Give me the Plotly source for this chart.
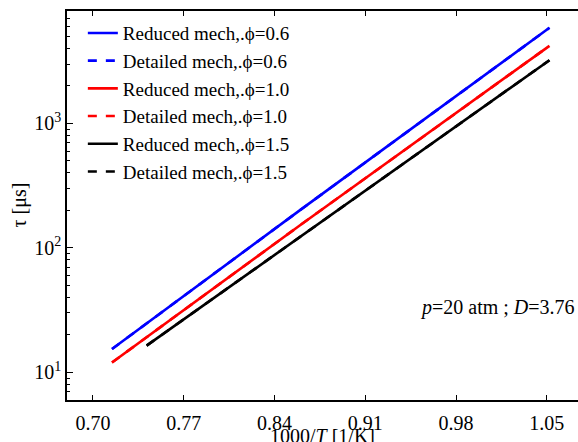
import plotly.graph_objects as go

# ---- data ----
inv_T_06 = [0.7147, 0.8597, 1.052]
tau_red_06 = [15.4, 201, 5860]
tau_det_06 = [15.4, 201, 5860]

inv_T_10 = [0.7147, 0.8597, 1.052]
tau_red_10 = [12.0, 152, 4200]
tau_det_10 = [12.0, 152, 4200]

inv_T_15 = [0.7414, 0.8597, 1.052]
tau_red_15 = [16.4, 123, 3220]
tau_det_15 = [16.4, 123, 3220]

x_ticks = [0.70, 0.77, 0.84, 0.91, 0.98, 1.05]
x_ticktext = ["0.70", "0.77", "0.84", "0.91", "0.98", "1.05"]
y_ticks = [10, 100, 1000]
y_ticktext = ["10<sup>1</sup>", "10<sup>2</sup>", "10<sup>3</sup>"]
y_minor = [m * 10 ** k for k in range(0, 4) for m in range(2, 10)]

FONT = "Liberation Serif, Times New Roman, serif"

series = [
    ("Reduced mech,.\u03d5=0.6", inv_T_06, tau_red_06, "#0000ff", "solid"),
    ("Detailed mech,.\u03d5=0.6", inv_T_06, tau_det_06, "#0000ff", "dash"),
    ("Reduced mech,.\u03d5=1.0", inv_T_10, tau_red_10, "#ff0000", "solid"),
    ("Detailed mech,.\u03d5=1.0", inv_T_10, tau_det_10, "#ff0000", "dash"),
    ("Reduced mech,.\u03d5=1.5", inv_T_15, tau_red_15, "#000000", "solid"),
    ("Detailed mech,.\u03d5=1.5", inv_T_15, tau_det_15, "#000000", "dash"),
]

fig = go.Figure()
for i, (name, x, y, c, d) in enumerate(series):
    fig.add_trace(go.Scatter(
        x=x, y=y, mode="lines", name=name,
        line=dict(color=c, width=2.6, dash=d),
        legendrank=i + 1,
    ))
# draw dashed (detailed) first so solid lines sit on top; legend order kept by legendrank
data = list(fig.data)
order = [1, 0, 3, 2, 5, 4]
fig.data = [data[k] for k in order]

fig.update_layout(
    width=578, height=442,
    margin=dict(l=67, r=0, t=11, b=42),
    paper_bgcolor="white", plot_bgcolor="white",
    font=dict(family=FONT, size=20, color="black"),
    showlegend=True,
    legend=dict(
        x=0.031, y=0.992, xanchor="left", yanchor="top",
        bgcolor="rgba(0,0,0,0)", borderwidth=0,
        font=dict(family=FONT, size=19, color="black"),
        tracegroupgap=0, traceorder="normal",
    ),
)

fig.update_xaxes(
    range=[0.68, 1.074],
    tickvals=x_ticks, ticktext=x_ticktext,
    ticks="inside", ticklen=5, tickwidth=1, tickcolor="black",
    ticklabelstandoff=4,
    showline=True, linecolor="black", linewidth=1.5, mirror="allticks",
    showgrid=False, zeroline=False,
    tickfont=dict(family=FONT, size=20, color="black"),
    automargin=False,
)
fig.update_yaxes(
    type="log", range=[0.778, 3.903],
    tickvals=y_ticks, ticktext=y_ticktext,
    ticks="inside", ticklen=6, tickwidth=1, tickcolor="black",
    minor=dict(tickvals=y_minor, ticks="inside", ticklen=3.5, tickcolor="black", tickwidth=1),
    showline=True, linecolor="black", linewidth=1.5, mirror=False,
    showgrid=False, zeroline=False,
    tickfont=dict(family=FONT, size=20, color="black"),
    automargin=False,
)

fig.add_annotation(
    xref="paper", yref="paper", x=0.5, y=0, yshift=-36,
    xanchor="center", yanchor="middle", showarrow=False,
    text="1000/<i>T</i> [1/K]", font=dict(family=FONT, size=20, color="black"),
)
fig.add_annotation(
    xref="paper", yref="paper", x=0, xshift=-48, y=0.5,
    xanchor="center", yanchor="middle", showarrow=False, textangle=-90,
    text="\u03c4 [\u03bcs]", font=dict(family=FONT, size=20, color="black"),
)
fig.add_annotation(
    xref="paper", yref="paper", x=1, xshift=-1, y=0.237,
    xanchor="right", yanchor="middle", showarrow=False,
    text="<i>p</i>=20 atm ; <i>D</i>=3.76", font=dict(family=FONT, size=20, color="black"),
)

fig.write_html("out.html")
